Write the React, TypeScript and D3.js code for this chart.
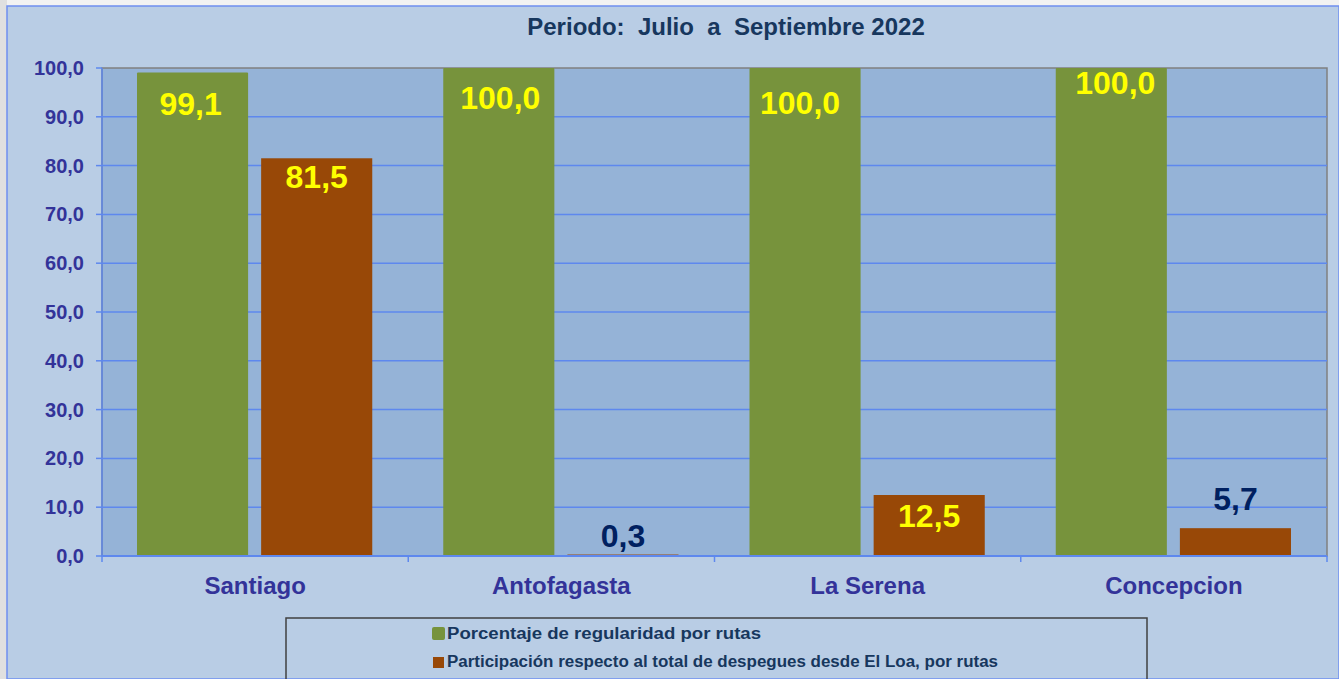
import React from "react";
import * as d3 from "d3";

const categories = ["Santiago", "Antofagasta", "La Serena", "Concepcion"];
const regularidad = [99.1, 100.0, 100.0, 100.0];
const participacion = [81.5, 0.3, 12.5, 5.7];
const yTicks = [0, 10, 20, 30, 40, 50, 60, 70, 80, 90, 100];
const seriesNames = [
  "Porcentaje de regularidad por rutas",
  "Participación respecto al total de despegues desde El Loa, por rutas",
];
const title = "Periodo:  Julio  a  Septiembre 2022";

// label styling: baseline offset from the bar top (+ = below), horizontal nudge
const greenLabelDy = [42.6, 41, 46, 26];
const greenLabelDx = [-2, 1.5, -5, 4];
const orangeLabelDy = [29.7, -8, 31.5, -17.7];

const W = 1339;
const H = 679;
const GREEN = "#77933C";
const ORANGE = "#984807";
const fmt = (v: number) => v.toFixed(1).replace(".", ",");

export default function App() {
  const left = 102, right = 1327, top = 68, bottom = 556;
  const y = d3.scaleLinear().domain([0, 100]).range([bottom, top]);
  const x = d3.scaleBand<string>().domain(categories).range([left, right]).paddingInner(0).paddingOuter(0);
  const bw = x.bandwidth();
  const inner = d3.scaleBand<string>().domain(["g", "o"]).range([35, bw - 36]).paddingInner(0.105);
  const font = "'Liberation Sans', Arial, sans-serif";

  return (
    <svg width={W} height={H} style={{ position: "absolute", left: 0, top: 0, display: "block" }} fontFamily={font}>
      <rect x={0} y={0} width={W} height={H} fill="#f2f2f2" />
      <rect x={0} y={0} width={7} height={H} fill="#e0e0e0" />
      <rect x={7} y={6} width={W - 7} height={H - 6} fill="#B9CDE5" stroke="#6f8ff0" strokeWidth={1.5} />
      <text x={726} y={35} textAnchor="middle" fontSize={24} fontWeight="bold" fill="#17375E" style={{ whiteSpace: "pre" }}>{title}</text>

      <rect x={left} y={top} width={right - left} height={bottom - top} fill="#95B3D7" stroke="#808080" strokeWidth={1.5} />
      {yTicks.filter((t) => t > 0 && t < 100).map((t) => (
        <line key={t} x1={left} x2={right} y1={y(t)} y2={y(t)} stroke="#5E88EE" strokeWidth={1.5} />
      ))}
      {yTicks.map((t) => (
        <g key={"yt" + t}>
          <line x1={96} x2={left} y1={y(t)} y2={y(t)} stroke="#5E88EE" strokeWidth={1.5} />
          <text x={84} y={y(t) + 7} textAnchor="end" fontSize={20} fontWeight="bold" fill="#333399">{fmt(t)}</text>
        </g>
      ))}

      {categories.map((c, i) => {
        const x0 = x(c)!;
        const gx = x0 + inner("g")!;
        const ox = x0 + inner("o")!;
        const ib = inner.bandwidth();
        const gTop = y(regularidad[i]);
        const oTop = y(participacion[i]);
        return (
          <g key={c}>
            <rect x={gx} y={gTop} width={ib} height={bottom - gTop} fill={GREEN} rx={1} />
            <rect x={ox} y={oTop} width={ib} height={bottom - oTop} fill={ORANGE} />
            <text x={gx + ib / 2 + greenLabelDx[i]} y={gTop + greenLabelDy[i]} textAnchor="middle" fontSize={32} fontWeight="bold" fill="#FFFF00">{fmt(regularidad[i])}</text>
            <text x={ox + ib / 2} y={oTop + orangeLabelDy[i]} textAnchor="middle" fontSize={32} fontWeight="bold" fill={orangeLabelDy[i] < 0 ? "#002060" : "#FFFF00"}>{fmt(participacion[i])}</text>
            <text x={x0 + bw / 2} y={594} textAnchor="middle" fontSize={24} fontWeight="bold" fill="#333399">{c}</text>
          </g>
        );
      })}

      <line x1={left} x2={right} y1={bottom} y2={bottom} stroke="#5E88EE" strokeWidth={2} />
      <line x1={left} x2={left} y1={top} y2={bottom} stroke="#5E88EE" strokeWidth={1.5} />
      {[...categories.map((c) => x(c)!), right].map((v, i) => (
        <line key={"xt" + i} x1={v} x2={v} y1={bottom} y2={562} stroke="#5E88EE" strokeWidth={1.5} />
      ))}

      <rect x={286} y={618} width={861} height={62} fill="none" stroke="#404040" strokeWidth={1.5} />
      <rect x={432} y={627} width={13} height={13} rx={2} fill={GREEN} />
      <text x={447} y={639} fontSize={16} fontWeight="bold" fill="#17375E" textLength={314} lengthAdjust="spacingAndGlyphs">{seriesNames[0]}</text>
      <rect x={433} y={657} width={11} height={11} fill={ORANGE} />
      <text x={447} y={667} fontSize={16} fontWeight="bold" fill="#17375E" textLength={551} lengthAdjust="spacingAndGlyphs">{seriesNames[1]}</text>
    </svg>
  );
}
